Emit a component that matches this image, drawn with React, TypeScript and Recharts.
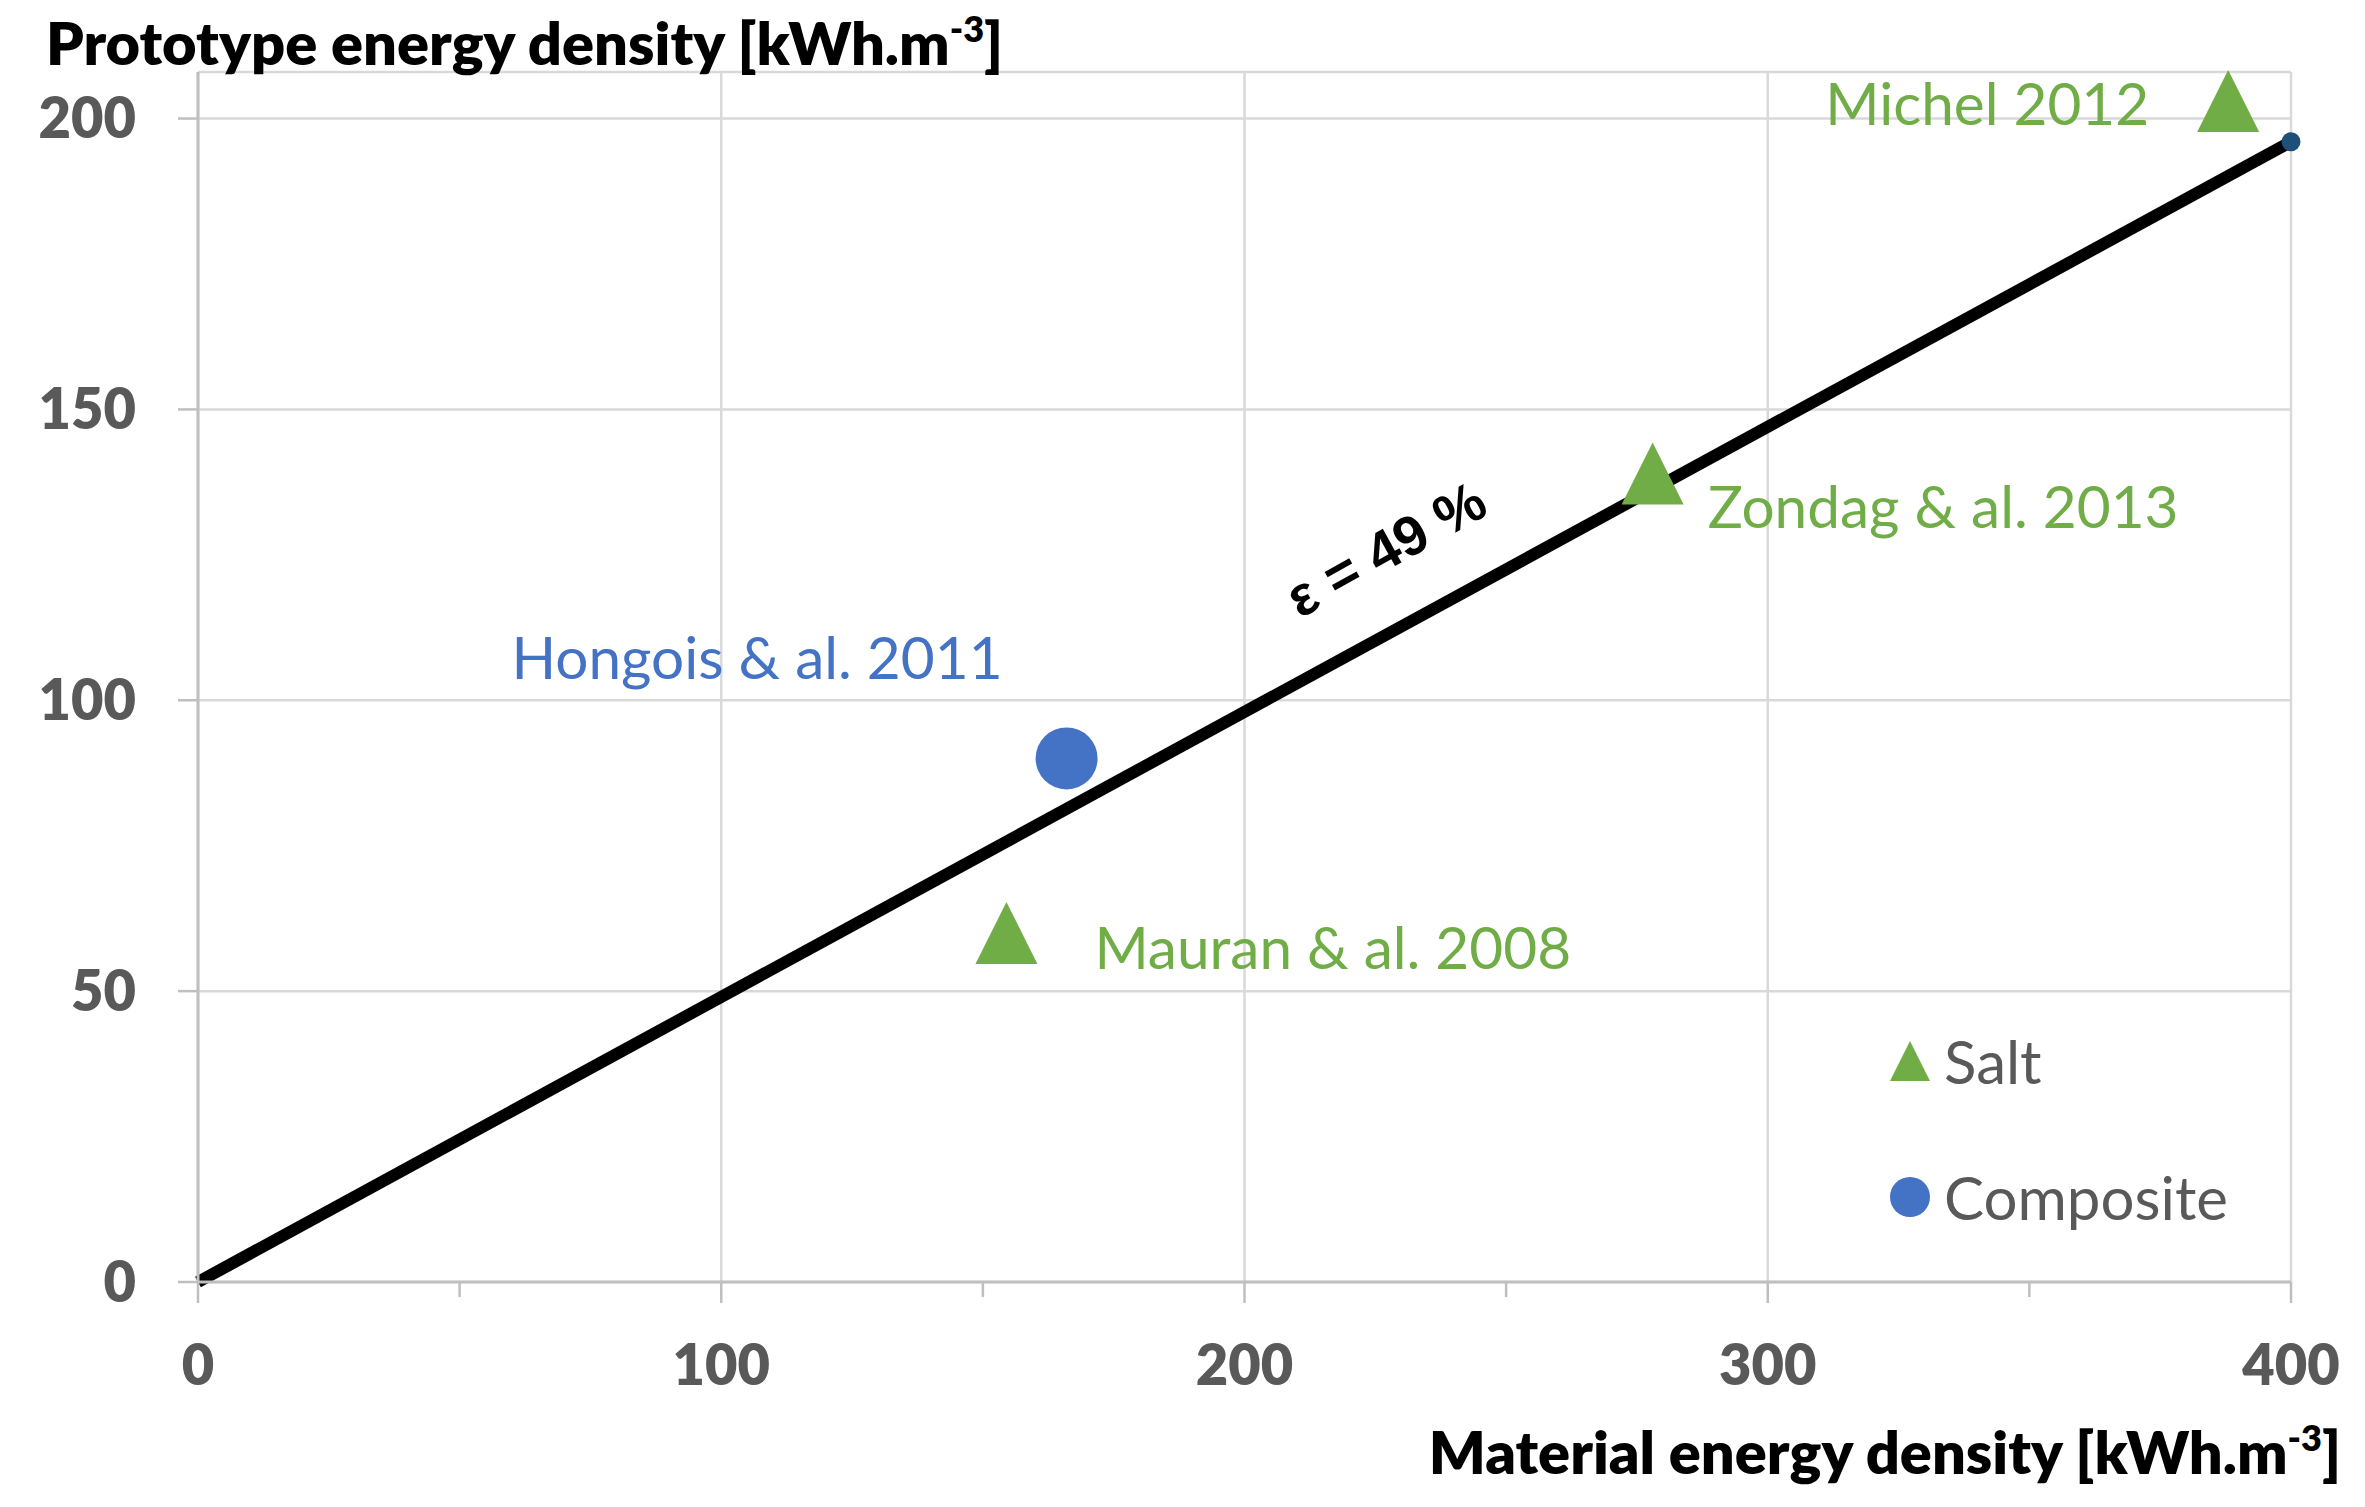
import { ScatterChart, Scatter, XAxis, YAxis, CartesianGrid, ReferenceLine, ReferenceDot, Legend } from 'recharts'

const xTicks = [0, 100, 200, 300, 400]
const xMinorTicks = [50, 150, 250, 350]
const yTicks = [0, 50, 100, 150, 200]
const xDomain = [0, 400]
const yDomain = [0, 208]

const saltPoints = [
	{ name: 'Mauran & al. 2008', x: 154.5, y: 60 },
	{ name: 'Zondag & al. 2013', x: 278, y: 139 },
	{ name: 'Michel 2012', x: 388, y: 203 },
]
const compositePoints = [{ name: 'Hongois & al. 2011', x: 166, y: 90 }]
const legendOrder = ['Salt', 'Composite']

// efficiency line through the origin, 49 % of material density
const fitLine = [
	{ x: 0, y: 0 },
	{ x: 400, y: 196 },
]
const fitLabel = { x: 227, y: 126, text: 'ε = 49 %' }

const GREEN = '#70ad47'
const BLUE = '#4472c4'
const GREY = '#595959'
const AXIS = '#bfbfbf'
const FONT = 'Lato, "Open Sans", sans-serif'

const labelOffsets: Record<string, { dx: number; dy: number; anchor: 'start' | 'end' }> = {
	'Mauran & al. 2008': { dx: 88, dy: 36, anchor: 'start' },
	'Zondag & al. 2013': { dx: 55, dy: 55, anchor: 'start' },
	'Michel 2012': { dx: -79, dy: 24, anchor: 'end' },
	'Hongois & al. 2011': { dx: -64, dy: -79, anchor: 'end' },
}

function PointLabel({ cx, cy, name, color }: { cx: number; cy: number; name: string; color: string }) {
	const off = labelOffsets[name]
	if (!off) return null
	return (
		<text x={cx + off.dx} y={cy + off.dy} textAnchor={off.anchor} fill={color} fontFamily={FONT} fontSize={58.5}>
			{name}
		</text>
	)
}

function SaltShape(props: any) {
	const { cx, cy, payload } = props
	const h = 31
	return (
		<g>
			<polygon points={`${cx},${cy - h} ${cx + h},${cy + h} ${cx - h},${cy + h}`} fill={GREEN} />
			<PointLabel cx={cx} cy={cy} name={payload.name} color={GREEN} />
		</g>
	)
}

function CompositeShape(props: any) {
	const { cx, cy, payload } = props
	return (
		<g>
			<circle cx={cx} cy={cy} r={31} fill={BLUE} />
			<PointLabel cx={cx} cy={cy} name={payload.name} color={BLUE} />
		</g>
	)
}

function LegendContent(props: any) {
	const payload = [...(props.payload || [])].sort(
		(a: any, b: any) => legendOrder.indexOf(a.value) - legendOrder.indexOf(b.value)
	)
	return (
		<div style={{ fontFamily: FONT, fontSize: 60, color: GREY }}>
			{payload.map((entry: any, i: number) => (
				<div
					key={entry.value}
					style={{ display: 'flex', alignItems: 'center', height: 70, lineHeight: '70px', marginTop: i === 0 ? 0 : 65.5 }}
				>
					<svg width={40} height={40} style={{ display: 'block' }}>
						{entry.value === 'Salt' ? (
							<polygon points="20,0 40,40 0,40" fill={GREEN} />
						) : (
							<circle cx={20} cy={20} r={20} fill={BLUE} />
						)}
					</svg>
					<span style={{ marginLeft: 14, whiteSpace: 'nowrap' }}>{entry.value}</span>
				</div>
			))}
		</div>
	)
}

export default function App() {
	const tickStyle = { fill: GREY, fontSize: 56, fontWeight: 800, fontFamily: FONT }
	return (
		<div style={{ position: 'absolute', left: 0, top: 0, background: '#fff' }}>
			<ScatterChart width={2365} height={1507} margin={{ top: 72, right: 74, bottom: 125, left: 48 }}>
				<CartesianGrid stroke="#d9d9d9" strokeWidth={2.5} />
				<XAxis
					type="number"
					dataKey="x"
					domain={xDomain}
					ticks={xTicks}
					interval={0}
					height={100}
					tickSize={21}
					tickMargin={42}
					tick={tickStyle}
					axisLine={{ stroke: AXIS, strokeWidth: 3 }}
					tickLine={{ stroke: AXIS, strokeWidth: 2.5 }}
				/>
				<YAxis
					type="number"
					dataKey="y"
					domain={yDomain}
					ticks={yTicks}
					interval={0}
					width={150}
					tickSize={20}
					tickMargin={42}
					tick={tickStyle}
					axisLine={{ stroke: AXIS, strokeWidth: 3 }}
					tickLine={{ stroke: AXIS, strokeWidth: 2.5 }}
				/>
				{xMinorTicks.map((v) => (
					<ReferenceDot
						key={v}
						x={v}
						y={0}
						r={0}
						ifOverflow="visible"
						shape={(p: any) => (
							<line x1={p.cx} y1={p.cy} x2={p.cx} y2={p.cy + 15} stroke={AXIS} strokeWidth={2.5} />
						)}
					/>
				))}
				<ReferenceLine segment={fitLine} stroke="#000" strokeWidth={12} ifOverflow="visible" />
				<ReferenceDot
					x={fitLine[1].x}
					y={fitLine[1].y}
					r={9.5}
					fill="#1f4e79"
					stroke="none"
					ifOverflow="visible"
				/>
				<ReferenceDot
					x={fitLabel.x}
					y={fitLabel.y}
					r={0}
					ifOverflow="visible"
					shape={(p: any) => (
						<text
							x={p.cx}
							y={p.cy}
							transform={`rotate(-29 ${p.cx} ${p.cy})`}
							textAnchor="middle"
							dominantBaseline="central"
							fontFamily='"Liberation Sans", Arial, sans-serif'
							fontWeight={700}
							fontSize={56}
							fill="#000"
						>
							{fitLabel.text}
						</text>
					)}
				/>
				<Scatter
					name="Salt"
					data={saltPoints}
					fill={GREEN}
					legendType="triangle"
					shape={SaltShape}
					isAnimationActive={false}
				/>
				<Scatter
					name="Composite"
					data={compositePoints}
					fill={BLUE}
					legendType="circle"
					shape={CompositeShape}
					isAnimationActive={false}
				/>
				<Legend
					layout="vertical"
					align="center"
					verticalAlign="middle"
					content={LegendContent}
					wrapperStyle={{ left: 1890, top: 1026, width: 420 }}
				/>
				<text x={46} y={65} fontFamily={FONT} fontWeight={800} fontSize={59.5} fill="#000">
					Prototype energy density [kWh.m
					<tspan fontSize={36} dy={-23}>
						-3
					</tspan>
					<tspan dy={23}>]</tspan>
				</text>
				<text x={2341} y={1474} textAnchor="end" fontFamily={FONT} fontWeight={800} fontSize={59.5} fill="#000">
					Material energy density [kWh.m
					<tspan fontSize={36} dy={-23}>
						-3
					</tspan>
					<tspan dy={23}>]</tspan>
				</text>
			</ScatterChart>
		</div>
	)
}
